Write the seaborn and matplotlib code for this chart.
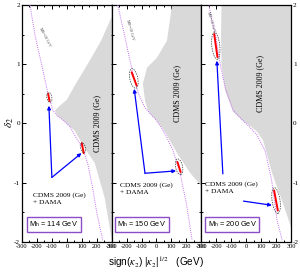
import matplotlib
matplotlib.use("Agg")
import matplotlib.pyplot as plt
import seaborn as sns
from matplotlib.patches import Ellipse
from matplotlib.transforms import Affine2D
from matplotlib.ticker import MultipleLocator

# Higgs masses of the three panels
masses = [114, 150, 200]

# dotted M_H0 = 10 GeV curve, one per panel (sign(k2)|k2|^1/2, delta2)
curve_x = [
    [-247, -210, -169, -127, -93, -60, -27, 20, 67, 107, 140, 170, 200, 240],
    [-259, -215, -158, -120, -80, -44, 0, 40, 70, 110, 158, 200, 238],
    [-254, -230, -207, -174, -140, -87, -30, 27, 74, 127, 170, 207, 241],
]
curve_y = [
    [2.0, 1.45, 1.0, 0.52, 0.22, 0.12, 0.06, -0.05, -0.26, -0.42, -0.68, -1.05, -1.5, -1.97],
    [2.0, 1.5, 0.84, 0.5, 0.28, 0.17, 0.05, -0.1, -0.24, -0.45, -0.84, -1.35, -1.97],
    [2.06, 1.75, 1.52, 1.01, 0.6, 0.22, 0.07, -0.07, -0.2, -0.46, -0.95, -1.64, -1.97],
]

# CDMS 2009 (Ge) excluded region outline per panel
cdms_x = [
    [300, 230, 153, 53, 0, -47, -80, -60, -27, 20, 53, 110, 187, 253, 300],
    [300, 104, 70, 3, -64, -91, -77, -57, -44, 0, 40, 70, 150, 230, 300],
    [300, -165, -168, -165, -140, -87, -20, 30, 74, 114, 174, 247, 300],
]
cdms_y = [
    [1.80, 1.40, 1.06, 0.64, 0.40, 0.30, 0.22, 0.12, 0.06, -0.05, -0.12, -0.38, -0.67, -1.25, -1.95],
    [2.0, 2.0, 1.40, 1.11, 0.94, 0.67, 0.39, 0.22, 0.17, 0.05, -0.08, -0.2, -0.55, -0.85, -1.05],
    [2.0, 2.0, 1.5, 1.0, 0.55, 0.2, 0.04, -0.05, -0.14, -0.29, -0.84, -1.35, -1.75],
]

# DAMA-compatible segments (red) : two per panel, [x0, x1], [y0, y1]
dama_x = [[[-125, -116], [100, 113]], [[-166, -133], [140, 162]], [[-214, -192], [187, 212]]]
dama_y = [[[0.50, 0.38], [-0.33, -0.50]], [[0.865, 0.64], [-0.65, -0.82]], [[1.51, 1.12], [-1.13, -1.47]]]

# dashed ellipses around them: centre x, centre y, width px, height px, angle
ell_cx = [[-117, 108], [-152, 151], [-203, 200]]
ell_cy = [[0.44, -0.41], [0.76, -0.73], [1.31, -1.30]]
ell_w = [[5, 5], [8, 7], [8, 8]]
ell_h = [[10, 10], [20, 16], [27, 26]]
ell_a = [[10, 15], [12, 12], [6, 8]]

# blue arrows: vertex -> tips
vert_x = [-100, -77, -156]
vert_y = [-0.91, -0.84, -0.85]
tip_up_x = [-120, -149, -196]
tip_up_y = [0.30, 0.585, 1.06]
arr2_x0 = [-100, -77, -18]
arr2_y0 = [-0.91, -0.84, -1.31]
tip_rt_x = [98, 131, 172]
tip_rt_y = [-0.50, -0.80, -1.38]

# text positions
cdms_txt_x = [200, 137, 94]
cdms_txt_y = [0.0, 0.5, 0.67]
lab_x = [-227, -245, -275]
lab_y = [-1.27, -1.10, -1.08]
box_x = [-250, -262, -258]
mh0_x = [-150, -180, -238]
mh0_y = [1.45, 1.57, 1.72]
mh0_rot = [-62, -74, -74]

sns.set_style("ticks")
plt.rcParams["font.family"] = ["Liberation Serif", "DejaVu Serif"]
plt.rcParams["mathtext.fontset"] = "stix"
plt.rcParams["text.color"] = "black"

fig, axes = plt.subplots(1, 3, figsize=(3.0, 2.73), dpi=100, sharey=True)
fig.subplots_adjust(left=0.0733, right=0.97, top=0.9817, bottom=0.1136, wspace=0)

px_x = 90 / 600.0   # px per GeV
px_y = 237 / 4.0    # px per unit delta2

for i, ax in enumerate(axes):
    ax.fill(cdms_x[i], cdms_y[i], color="#d9d9d9", lw=0, zorder=1)
    sns.lineplot(x=curve_x[i], y=curve_y[i], sort=False, ax=ax, color="#c36bf0",
                 lw=0.7, linestyle=(0, (1, 1.2)), zorder=3)
    for k in range(2):
        sns.lineplot(x=dama_x[i][k], y=dama_y[i][k], sort=False, ax=ax,
                     color="red", lw=1.4, zorder=4)
        tr = Affine2D().scale(1 / px_x, 1 / px_y) + ax.transData
        e = Ellipse((ell_cx[i][k] * px_x, ell_cy[i][k] * px_y), ell_w[i][k], ell_h[i][k],
                    angle=ell_a[i][k], fill=False, ls=(0, (2, 1.5)), lw=0.5,
                    ec="#333333", transform=tr, zorder=5)
        ax.add_patch(e)
    ax.annotate("", xy=(tip_up_x[i], tip_up_y[i]), xytext=(vert_x[i], vert_y[i]),
                arrowprops=dict(arrowstyle="-|>", color="blue", lw=0.9,
                                mutation_scale=5, shrinkA=0, shrinkB=0), zorder=6)
    ax.annotate("", xy=(tip_rt_x[i], tip_rt_y[i]), xytext=(arr2_x0[i], arr2_y0[i]),
                arrowprops=dict(arrowstyle="-|>", color="blue", lw=0.9,
                                mutation_scale=5, shrinkA=0, shrinkB=0), zorder=6)
    ax.text(cdms_txt_x[i], cdms_txt_y[i], "CDMS 2009 (Ge)", rotation=90,
            ha="center", va="center", fontsize=5.8, zorder=7)
    ax.text(lab_x[i], lab_y[i], "CDMS 2009 (Ge)\n+ DAMA", ha="left", va="center",
            fontsize=5.3, linespacing=1.6, zorder=7)
    ax.text(box_x[i], -1.70, r"M$_\mathregular{h}$ = %d GeV" % masses[i],
            family="Liberation Sans", ha="left", va="center", fontsize=5.3, zorder=7,
            bbox=dict(boxstyle="square,pad=0.35", fc="white", ec="#8a4fc7", lw=1.0))
    ax.text(mh0_x[i], mh0_y[i], r"M$_\mathregular{H^0}$=10 GeV", rotation=mh0_rot[i],
            ha="center", va="center", fontsize=2.8, color="#444444", zorder=7)

    ax.set_xlim(-300, 300)
    ax.set_ylim(-2, 2)
    ax.xaxis.set_major_locator(MultipleLocator(100))
    ax.xaxis.set_minor_locator(MultipleLocator(50))
    ax.yaxis.set_major_locator(MultipleLocator(1))
    ax.yaxis.set_minor_locator(MultipleLocator(0.5))
    ax.tick_params(which="both", direction="in", top=True, right=True, left=True,
                   bottom=True, width=0.7, color="black", labelcolor="black",
                   labelsize=4.6, pad=1.5)
    ax.tick_params(which="major", length=3)
    ax.tick_params(which="minor", length=1.6)
    ax.set_xticks(range(-300, 301, 100))
    ax.set_xticklabels([str(v) for v in range(-300, 301, 100)])
    for s in ax.spines.values():
        s.set_linewidth(0.9)
        s.set_color("black")
    ax.set_xlabel("")
    ax.set_ylabel("")

axes[0].set_yticks([-2, -1, 0, 1, 2])
axes[0].set_yticklabels(["-2", "-1", "0", "1", "2"])
axes[0].tick_params(axis="y", labelsize=5.2)
axes[2].tick_params(axis="y", labelright=True, labelleft=False, labelsize=5.2)
axes[1].tick_params(labelleft=False)

fig.text(0.033, 0.55, r"$\delta_2$", rotation=90, ha="center", va="center", fontsize=8)
fig.text(0.52, 0.038, r"sign($\kappa_2$) |$\kappa_2$|$^{1/2}$   (GeV)",
         family="Liberation Sans", ha="center", va="center", fontsize=7.2)

fig.savefig("out.png", dpi=100)
